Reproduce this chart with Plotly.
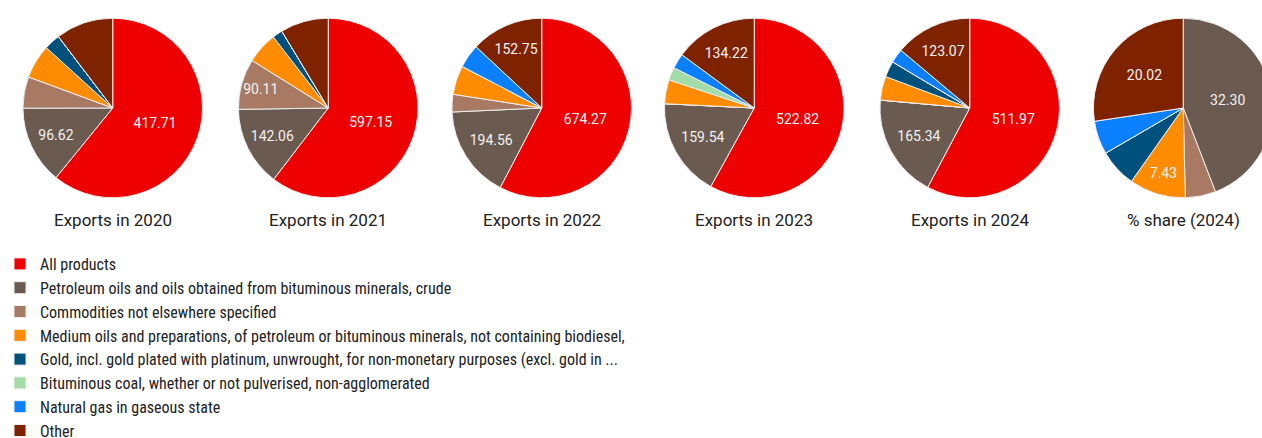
import plotly.graph_objects as go

categories = [
    "All products",
    "Petroleum oils and oils obtained from bituminous minerals, crude",
    "Commodities not elsewhere specified",
    "Medium oils and preparations, of petroleum or bituminous minerals, not containing biodiesel,",
    "Gold, incl. gold plated with platinum, unwrought, for non-monetary purposes (excl. gold in ...",
    "Bituminous coal, whether or not pulverised, non-agglomerated",
    "Natural gas in gaseous state",
    "Other",
]
colors = ["#EE0000", "#6B5A50", "#A87A63", "#FF8C00", "#00507D", "#A3DCA6", "#0A80FF", "#7F2200"]

exports_2020 = [417.71, 96.62, 38.7, 42.0, 20.0, 0, 0, 71.0]
exports_2021 = [597.15, 142.06, 90.11, 56.0, 18.0, 0, 0, 85.5]
exports_2022 = [674.27, 194.56, 37.0, 61.0, 0, 0, 50.0, 152.75]
exports_2023 = [522.82, 159.54, 0, 39.0, 0, 20.8, 24.3, 134.22]
exports_2024 = [511.97, 165.34, 0, 38.0, 25.6, 0, 22.5, 123.07]
share_2024 = [0, 32.30, 4.0, 7.43, 5.0, 0, 4.4, 20.02]

titles = ["Exports in 2020", "Exports in 2021", "Exports in 2022",
          "Exports in 2023", "Exports in 2024", "% share (2024)"]
series = [exports_2020, exports_2021, exports_2022, exports_2023, exports_2024, share_2024]
# which slices carry a visible value label
labelled = [
    [0, 1],
    [0, 1, 2],
    [0, 1, 7],
    [0, 1, 7],
    [0, 1, 7],
    [1, 3, 7],
]

W, H = 1276, 452
centers = [110, 326, 540, 753, 969, 1183]
cy, R = 108, 90
title_y = 220

fig = go.Figure()
for i, (vals, title, lab, cx) in enumerate(zip(series, titles, labelled, centers)):
    tmpl = ["%{value:.2f}" if k in lab else "" for k in range(len(vals))]
    fig.add_trace(go.Pie(
        labels=categories,
        values=vals,
        sort=False,
        direction="clockwise",
        rotation=0,
        marker=dict(colors=colors, line=dict(color="#eeeeee", width=1)),
        texttemplate=tmpl,
        textposition="inside",
        insidetextorientation="horizontal",
        textfont=dict(family="Roboto", size=14, color="#f2f2f2"),
        domain=dict(x=[(cx - R) / W, (cx + R) / W],
                    y=[1 - (cy + R) / H, 1 - (cy - R) / H]),
        showlegend=(i == 0),
        hoverinfo="label+value",
    ))
    fig.add_annotation(
        text=title, x=cx / W, y=1 - title_y / H, xref="paper", yref="paper",
        xanchor="center", yanchor="middle", showarrow=False,
        font=dict(family="Roboto", size=17, color="#222222"),
    )

fig.update_layout(
    width=W, height=H,
    margin=dict(l=0, r=0, t=0, b=0),
    paper_bgcolor="white",
    font=dict(family="Roboto"),
    legend=dict(
        x=-3 / W, y=1 - 247 / H, xanchor="left", yanchor="top",
        font=dict(family="Liberation Sans Narrow, Roboto Condensed, Roboto", size=16, color="#222222"),
        traceorder="normal",
        itemwidth=30,
        itemclick=False,
    ),
)

fig.write_html(
    "out.html",
    post_script="document.body.style.overflow='hidden';document.documentElement.style.overflow='hidden';document.body.style.margin='0';",
)
